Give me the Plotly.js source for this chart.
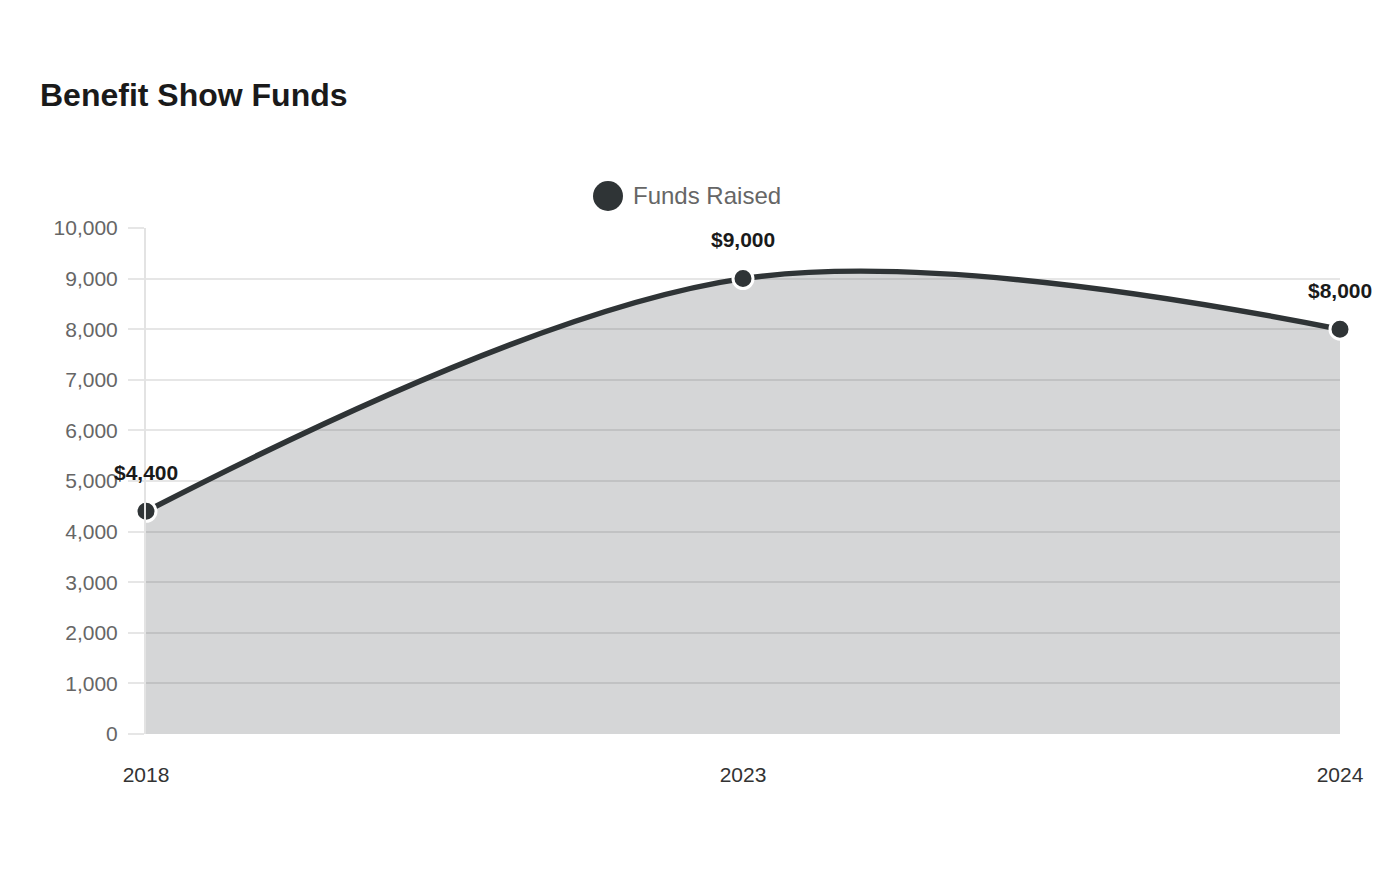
<!DOCTYPE html>
<html>
<head>
<meta charset="utf-8">
<script src="https://cdn.plot.ly/plotly-3.0.1.min.js"></script>
<style>html,body{margin:0;padding:0;background:#fff;}#chart{width:1400px;height:880px;}</style>
</head>
<body>
<div id="chart"></div>
<script>
const years = ["2018", "2023", "2024"];
const funds = [4400, 9000, 8000];
const fundLabels = ["$4,400", "$9,000", "$8,000"];
const seriesName = "Funds Raised";
const yTicks = [0, 1000, 2000, 3000, 4000, 5000, 6000, 7000, 8000, 9000, 10000];

const lineColor = "#2f3436";
const font = "Liberation Sans, Arial, sans-serif";

const trace = {
  x: years,
  y: funds,
  type: "scatter",
  mode: "lines+markers",
  name: seriesName,
  line: {color: lineColor, width: 5.5, shape: "spline", smoothing: 1},
  marker: {color: lineColor, size: 20, line: {color: "#ffffff", width: 3}},
  fill: "tozeroy",
  fillcolor: "rgba(47,52,54,0.2)",
  cliponaxis: false,
  showlegend: false,
  hoverinfo: "x+y"
};

const annotations = years.map((yr, i) => ({
  x: i, y: funds[i], xref: "x", yref: "y",
  text: "<b>" + fundLabels[i] + "</b>",
  showarrow: false, yshift: 39,
  font: {family: font, size: 21, color: "#1a1a1a"}
}));
annotations.push({
  xref: "paper", yref: "paper",
  x: (631 - 146) / 1194, y: (734 - 196) / 506,
  xanchor: "left", yanchor: "middle",
  text: seriesName, showarrow: false,
  font: {family: font, size: 24, color: "#666666"}
});

const layout = {
  width: 1400, height: 880,
  margin: {l: 146, r: 60, t: 228, b: 146},
  paper_bgcolor: "#ffffff", plot_bgcolor: "#ffffff",
  font: {family: font},
  title: {
    text: "<b>Benefit Show Funds</b>",
    xref: "container", yref: "container",
    x: 40 / 1400, xanchor: "left",
    y: 1 - 95 / 880, yanchor: "middle",
    font: {family: font, size: 32, color: "#1a1a1a"}
  },
  xaxis: {
    type: "category",
    range: [0, 2],
    showgrid: false,
    zeroline: false,
    showline: false,
    ticks: "",
    ticklabelstandoff: 26,
    tickfont: {family: font, size: 21, color: "#333333"},
    fixedrange: true
  },
  yaxis: {
    range: [0, 10000],
    tickvals: yTicks,
    tickformat: ",d",
    showgrid: true,
    gridcolor: "#e6e6e6",
    gridwidth: 1.5,
    zeroline: false,
    showline: true,
    linecolor: "#e3e3e3",
    linewidth: 2,
    ticks: "outside",
    ticklen: 16,
    tickcolor: "#e6e6e6",
    tickwidth: 1.5,
    ticklabelstandoff: 6,
    tickfont: {family: font, size: 21, color: "#666666"},
    fixedrange: true
  },
  shapes: [{
    type: "circle", xref: "paper", yref: "paper",
    x0: (593 - 146) / 1194, x1: (623 - 146) / 1194,
    y0: (734 - 211) / 506, y1: (734 - 181) / 506,
    fillcolor: lineColor, line: {width: 0}
  }],
  annotations: annotations
};

Plotly.newPlot("chart", [trace], layout, {displayModeBar: false});
</script>
</body>
</html>
